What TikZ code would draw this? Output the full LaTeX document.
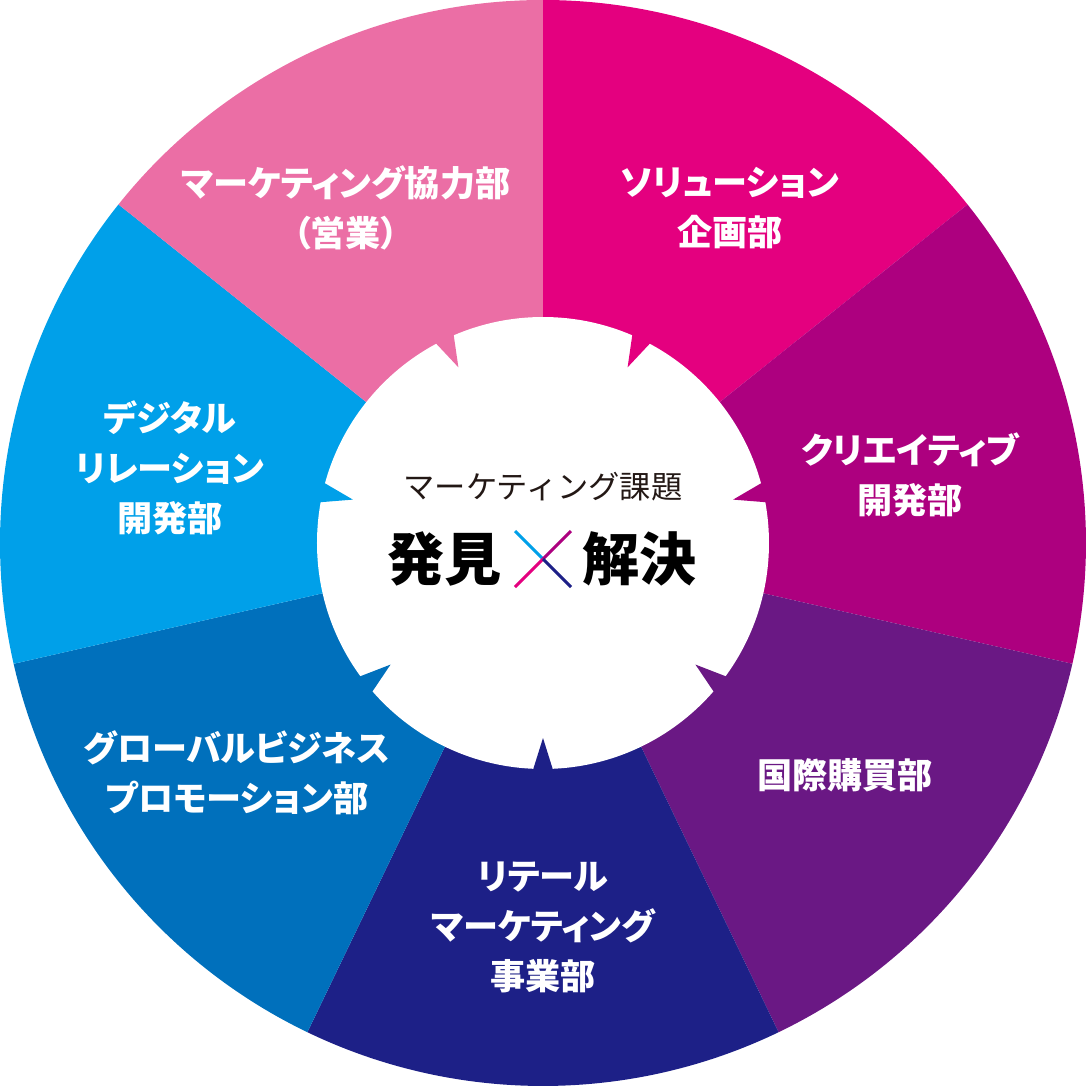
\documentclass[tikz,border=0pt]{standalone}
\usepackage{fontspec}
\setmainfont{Noto Sans CJK JP}
\newfontfamily\deptfont{Noto Sans CJK JP}[RawFeature=+palt]
\definecolor{solpink}{HTML}{E4007F}
\definecolor{crepurple}{HTML}{AD007F}
\definecolor{intviolet}{HTML}{6A1884}
\definecolor{retnavy}{HTML}{1D2087}
\definecolor{globblue}{HTML}{0070BC}
\definecolor{digicyan}{HTML}{00A0E9}
\definecolor{salespink}{HTML}{EB6EA5}
\definecolor{capgray}{HTML}{231815}

\begin{document}
\begin{tikzpicture}[
  scale=0.02,
  dept/.style={text=white, align=center, inner sep=0pt, font=\deptfont\bfseries\fontsize{20}{28.5}\selectfont},
  caption/.style={text=capgray, inner sep=0pt, font=\fontsize{17.8}{20}\selectfont},
  keyword/.style={text=black, inner sep=0pt, font=\bfseries\fontsize{32.5}{36}\selectfont},
  crossarm/.style={line width=1.8pt}
]
\useasboundingbox (-543,-543) rectangle (543,543);
\foreach \col [count=\i from 0] in {solpink,crepurple,intviolet,retnavy,globblue,digicyan,salespink}{
  \fill[\col] (0,0) -- (90-\i*360/7:543) arc[start angle=90-\i*360/7, end angle=90-(\i+1)*360/7, radius=543] -- cycle;
}
\fill[white] (0,0) circle (226);
\foreach \col [count=\i from 0] in {solpink,crepurple,intviolet,retnavy,globblue,digicyan,salespink}{
  \fill[\col] (90-\i*360/7-25.714+3.1:236) -- (90-\i*360/7-25.714:195) -- (90-\i*360/7-25.714-3.1:236) -- cycle;
}

\node[dept] (sol) at (187,335) {ソリューション\\企画部};
\node[dept] (cre) at (367,68) {クリエイティブ\\開発部};
\node[dept] (intl) at (302,-232) {国際購買部};
\node[dept] (ret) at (0,-384) {リテール\\マーケティング\\事業部};
\node[dept] (glob) at (-306,-230) {グローバルビジネス\\プロモーション部};
\node[dept] (digi) at (-373,75) {デジタル\\リレーション\\開発部};
\node[dept] (sales) at (-197,335) {マーケティング協力部\\（営業）};

\node[caption] (cap) at (0,56) {マーケティング課題};
\coordinate (xc) at (0,-16);
\node[keyword] (find) at (-98,-16) {発見};
\node[keyword] (solve) at (97,-16) {解決};
\draw[crossarm, digicyan] (xc) -- ++(-28,28);
\draw[crossarm, crepurple] (xc) -- ++(28,28);
\draw[crossarm, solpink] (xc) -- ++(-28,-28);
\draw[crossarm, retnavy] (xc) -- ++(28,-28);
\end{tikzpicture}
\end{document}
